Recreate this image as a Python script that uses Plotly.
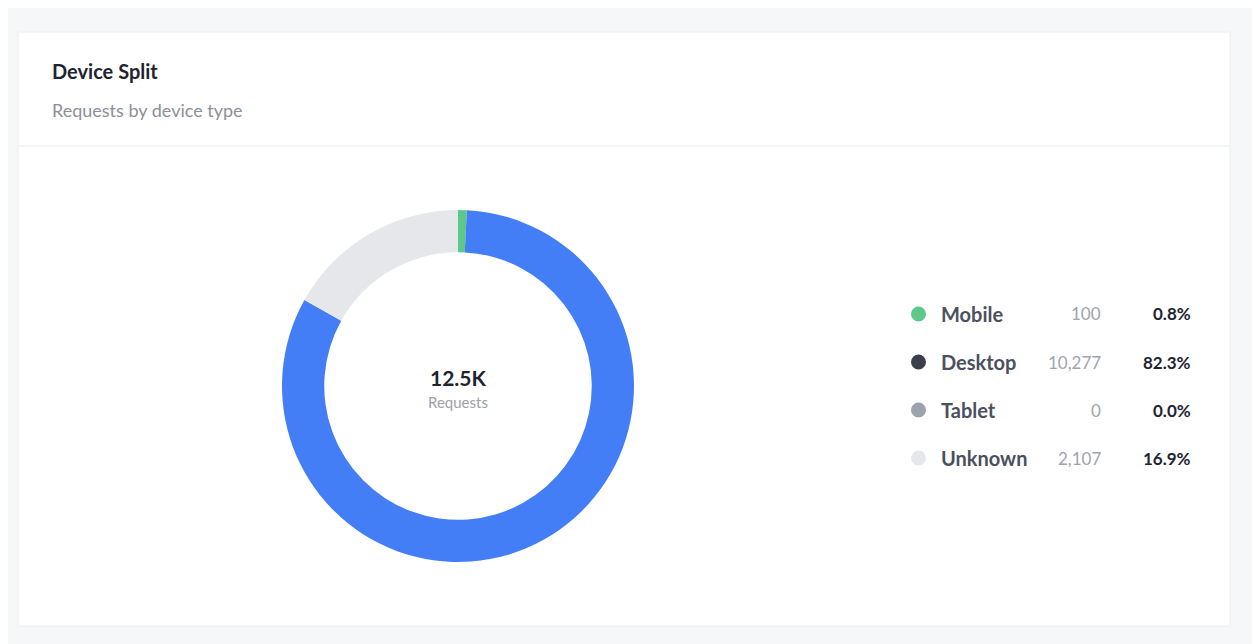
import plotly.graph_objects as go

labels = ["Mobile", "Desktop", "Tablet", "Unknown"]
counts = [100, 10277, 0, 2107]
slice_colors = ["#5cc98a", "#437ef7", "#9ca3af", "#e5e7eb"]
legend_dots = ["#5cc98a", "#3b3f4c", "#9ca3af", "#e5e7eb"]
total_label = "12.5K"

W, H = 1260, 644


def px(x):
    return x / W


def py(y):
    return 1 - y / H


total = sum(counts)

fig = go.Figure()
fig.add_trace(go.Pie(
    labels=labels, values=counts, hole=0.76, sort=False, direction="clockwise",
    rotation=0, marker=dict(colors=slice_colors, line=dict(width=0)),
    textinfo="none", hoverinfo="label+value+percent", showlegend=False,
    domain=dict(x=[px(274), px(626)], y=[py(554), py(202)]),
))

shapes = [
    dict(type="rect", xref="paper", yref="paper", x0=px(10), x1=px(1222), y0=py(618), y1=py(24),
         fillcolor="white", line=dict(color="#eceef2", width=1), layer="below"),
    dict(type="line", xref="paper", yref="paper", x0=px(10), x1=px(1222), y0=py(138), y1=py(138),
         line=dict(color="#e5e7eb", width=1)),
]
ann = [
    dict(x=px(42), y=py(63), text="<b>Device Split</b>", font=dict(size=20, color="#1f2430")),
    dict(x=px(42), y=py(102), text="Requests by device type", font=dict(size=18, color="#8b8f98")),
    dict(x=px(450), y=py(369), text="<b>" + total_label + "</b>", font=dict(size=21, color="#1f2430"),
         xanchor="center"),
    dict(x=px(450), y=py(394), text="Requests", font=dict(size=15, color="#9ca0a8"), xanchor="center"),
]
for i, (lab, c) in enumerate(zip(labels, counts)):
    yy = 306 + i * 48
    shapes.append(dict(type="circle", xref="paper", yref="paper",
                       x0=px(903), x1=px(918), y0=py(yy + 7.5), y1=py(yy - 7.5),
                       fillcolor=legend_dots[i], line=dict(width=0)))
    ann.append(dict(x=px(931), y=py(yy), text="<b>" + lab + "</b>", font=dict(size=20, color="#4b5060")))
    ann.append(dict(x=px(1095), y=py(yy), text=f"{c:,}", xanchor="right",
                    font=dict(size=17, color="#a0a4ac")))
    ann.append(dict(x=px(1185), y=py(yy), text=f"<b>{c / total * 100:.1f}%</b>", xanchor="right",
                    font=dict(size=17, color="#1f2430")))
for a in ann:
    a.setdefault("xanchor", "left")
    a.update(xref="paper", yref="paper", yanchor="middle", showarrow=False)

fig.update_layout(
    width=W, height=H, margin=dict(l=0, r=0, t=0, b=0),
    paper_bgcolor="#f6f7f9", plot_bgcolor="#f6f7f9",
    font=dict(family="Lato, sans-serif"),
    shapes=shapes, annotations=ann,
)
fig.write_html("out.html")
